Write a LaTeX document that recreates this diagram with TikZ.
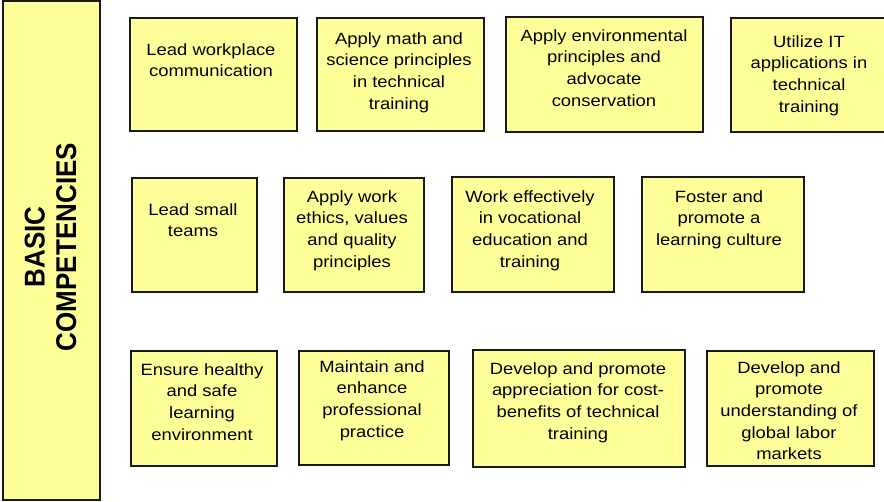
\documentclass[tikz,border=0pt]{standalone}
\usepackage{fontspec}
\setmainfont{Liberation Sans}[FakeStretch=1.13]
\newfontfamily\headfont{Liberation Sans}
\usepackage{tikz}
\definecolor{boxfill}{RGB}{255,255,153}
\definecolor{boxline}{RGB}{25,25,25}

\begin{document}
\begin{tikzpicture}[x=1pt,y=-1pt,line join=miter,
  compbox/.style={draw=boxline,fill=boxfill,line width=1.7pt},
  comptext/.style={anchor=north,align=center,inner sep=0pt,
    font=\fontsize{16.3}{21.7}\selectfont,text=black}]
\useasboundingbox (0,0) rectangle (884,502);
\begin{scope}
\clip (0,0) rectangle (884,502);
% side label
\draw[compbox] (3,1) rectangle (100,500);
\node[rotate=90,inner sep=0pt,font=\headfont\bfseries\fontsize{26}{28.6}\selectfont] (head) at (54,247)
  {\scalebox{1}[1.1]{\begin{tabular}{@{}c@{}}BASIC\\COMPETENCIES\end{tabular}}};
% first row
\draw[compbox] (130,18) rectangle (297,131);
\node[comptext] (lead) at (211,43) {Lead workplace\\communication};
\draw[compbox] (317,18) rectangle (484,131);
\node[comptext] (math) at (399,32) {Apply math and\\science principles\\in technical\\training};
\draw[compbox] (506,17) rectangle (703,132);
\node[comptext] (env) at (604,29) {Apply environmental\\principles and\\advocate\\conservation};
\draw[compbox] (731,18) rectangle (887,132);
\node[comptext] (it) at (809,35) {Utilize IT\\applications in\\technical\\training};
% second row
\draw[compbox] (132,178) rectangle (257,292);
\node[comptext] (teams) at (193,203) {Lead small\\teams};
\draw[compbox] (284,178) rectangle (424,292);
\node[comptext] (ethics) at (352,190) {Apply work\\ethics, values\\and quality\\principles};
\draw[compbox] (452,177) rectangle (614,292);
\node[comptext] (voc) at (530,190) {Work effectively\\in vocational\\education and\\training};
\draw[compbox] (642,177) rectangle (804,292);
\node[comptext] (culture) at (719,190) {Foster and\\promote a\\learning culture};
% third row
\draw[compbox] (131,351) rectangle (277,466);
\node[comptext] (safe) at (202,363) {Ensure healthy\\and safe\\learning\\environment};
\draw[compbox] (299,351) rectangle (449,465);
\node[comptext] (prof) at (372,360) {Maintain and\\enhance\\professional\\practice};
\draw[compbox] (473,350) rectangle (685,467);
\node[comptext] (cost) at (578,362) {Develop and promote\\appreciation for cost-\\benefits of technical\\training};
\draw[compbox] (707,351) rectangle (874,466);
\node[comptext] (labor) at (789,361) {Develop and\\promote\\understanding of\\global labor\\markets};
\end{scope}
\end{tikzpicture}
\end{document}
